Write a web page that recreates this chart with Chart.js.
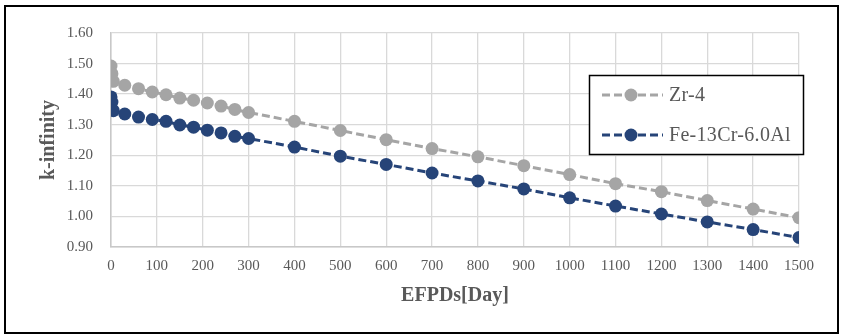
<!DOCTYPE html>
<html>
<head>
<meta charset="utf-8">
<script src="https://cdn.jsdelivr.net/npm/chart.js@4"></script>
<style>
html,body{margin:0;padding:0;background:#fff;}
#wrap{position:relative;width:841px;height:336px;}
#frame{position:absolute;left:4px;top:5px;width:831px;height:325px;border:2px solid #000;pointer-events:none;}
canvas{position:absolute;left:0;top:0;}
</style>
</head>
<body>
<div id="wrap">
<canvas id="c" width="841" height="336"></canvas>
<div id="frame"></div>
</div>
<script>
const days = [0, 2, 5, 30, 60, 90, 120, 150, 180, 210, 240, 270, 300, 400, 500, 600, 700, 800, 900, 1000, 1100, 1200, 1300, 1400, 1500];
const zr4 = [1.492, 1.467, 1.442, 1.429, 1.418, 1.407, 1.398, 1.387, 1.380, 1.371, 1.361, 1.350, 1.340, 1.311, 1.281, 1.251, 1.222, 1.195, 1.166, 1.137, 1.107, 1.081, 1.052, 1.024, 0.996];
const fecral = [1.391, 1.374, 1.346, 1.335, 1.325, 1.317, 1.311, 1.299, 1.292, 1.282, 1.273, 1.262, 1.255, 1.227, 1.197, 1.170, 1.142, 1.116, 1.090, 1.061, 1.034, 1.008, 0.982, 0.957, 0.931];
const seriesNames = ['Zr-4', 'Fe-13Cr-6.0Al'];
const seriesColors = ['#a5a5a5', '#264478'];
const xTicks = [0, 100, 200, 300, 400, 500, 600, 700, 800, 900, 1000, 1100, 1200, 1300, 1400, 1500];
const yTicks = [0.90, 1.00, 1.10, 1.20, 1.30, 1.40, 1.50, 1.60];

function pts(ys){ return days.map((d,i)=>({x:d, y:ys[i]})); }

const legendPlugin = {
  id: 'boxLegend',
  afterDraw(chart){
    const ctx = chart.ctx;
    ctx.save();
    ctx.fillStyle = '#fff';
    ctx.fillRect(589, 75, 215, 80);
    ctx.lineWidth = 1.5;
    ctx.strokeStyle = '#000';
    ctx.strokeRect(589.5, 75.5, 214, 79);
    const rows = [95, 135];
    chart.data.datasets.forEach((ds, i) => {
      const y = rows[i];
      ctx.strokeStyle = ds.borderColor;
      ctx.lineWidth = 3;
      ctx.setLineDash([8, 4]);
      ctx.beginPath();
      ctx.moveTo(602, y);
      ctx.lineTo(663, y);
      ctx.stroke();
      ctx.setLineDash([]);
      ctx.fillStyle = ds.pointBackgroundColor;
      ctx.beginPath();
      ctx.arc(631, y, 6.5, 0, Math.PI*2);
      ctx.fill();
      ctx.fillStyle = '#595959';
      ctx.font = '20px "Liberation Serif", "Times New Roman", serif';
      if ('letterSpacing' in ctx) ctx.letterSpacing = '0.3px';
      ctx.textBaseline = 'middle';
      ctx.textAlign = 'left';
      ctx.fillText(ds.label, 669, y + 1);
    });
    ctx.restore();
  }
};

const tickFont = {family: '"Liberation Serif", "Times New Roman", serif', size: 15};
const titleFont = {family: '"Liberation Serif", "Times New Roman", serif', size: 20, weight: 'bold'};

new Chart(document.getElementById('c'), {
  type: 'line',
  data: {
    datasets: [zr4, fecral].map((ys, i) => ({
      label: seriesNames[i],
      data: pts(ys),
      borderColor: seriesColors[i],
      backgroundColor: seriesColors[i],
      pointBackgroundColor: seriesColors[i],
      pointBorderColor: seriesColors[i],
      pointRadius: 6.5,
      pointBorderWidth: 0,
      borderWidth: 3,
      borderDash: [8, 4],
      tension: 0,
      fill: false
    }))
  },
  options: {
    responsive: false,
    animation: false,
    devicePixelRatio: 1,
    layout: {padding: {left: 0, right: 42, top: 33, bottom: 0}},
    plugins: {legend: {display: false}, tooltip: {enabled: false}},
    scales: {
      x: {
        type: 'linear',
        min: 0, max: 1500,
        afterBuildTicks: s => { s.ticks = xTicks.map(v => ({value: v})); },
        afterFit: s => { s.height = 89; },
        grid: {color: '#d9d9d9', lineWidth: 1.3, drawTicks: false},
        border: {color: '#c8c8c8', width: 1.5},
        ticks: {color: '#595959', font: tickFont, padding: 10, maxRotation: 0, callback: v => String(v)},
        title: {display: true, text: 'EFPDs[Day]', color: '#595959', font: titleFont, padding: {top: 0, bottom: 28}}
      },
      y: {
        min: 0.9, max: 1.6,
        afterBuildTicks: s => { s.ticks = yTicks.map(v => ({value: v})); },
        afterFit: s => { s.width = 111; },
        grid: {color: '#d9d9d9', lineWidth: 1.3, drawTicks: false},
        border: {color: '#c8c8c8', width: 1.5},
        ticks: {color: '#595959', font: tickFont, padding: 18, callback: v => v.toFixed(2)},
        title: {display: true, text: 'k-infinity', color: '#595959', font: titleFont, padding: {top: 37, bottom: 0}}
      }
    }
  },
  plugins: [legendPlugin]
});
</script>
</body>
</html>
